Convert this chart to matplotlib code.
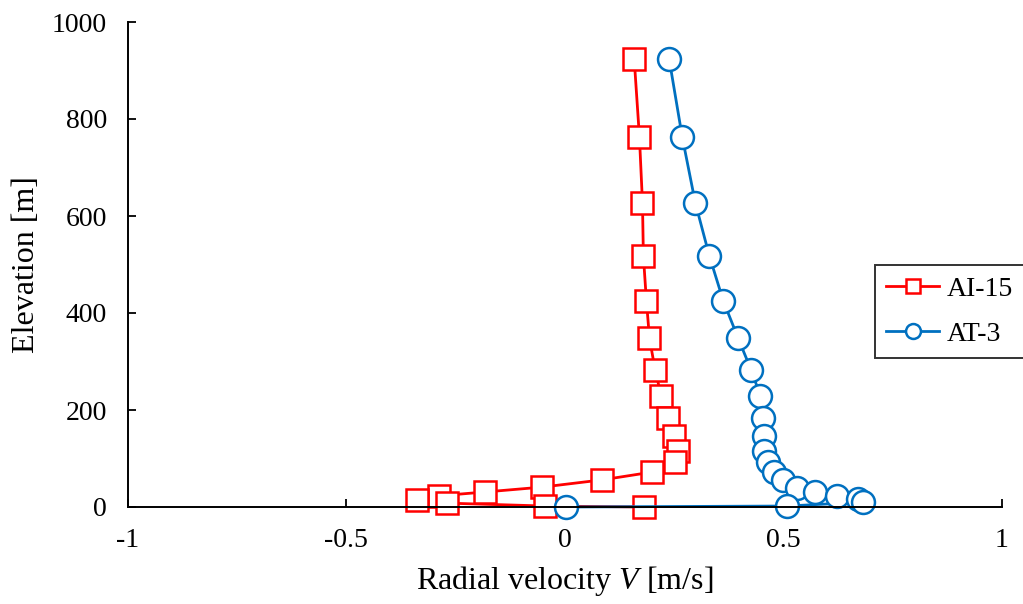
import matplotlib
matplotlib.use("Agg")
import matplotlib.pyplot as plt

# Elevation [m] of each measurement level, top to bottom
elev_ai15 = [924, 763, 627, 518, 425, 348, 282, 229, 184, 146, 115, 93, 72, 56,
             41, 31, 23, 14, 8, 2, 0]
v_ai15 = [0.159, 0.171, 0.178, 0.180, 0.187, 0.194, 0.207, 0.221, 0.237, 0.251,
          0.260, 0.253, 0.200, 0.086, -0.052, -0.182, -0.288, -0.338, -0.269,
          -0.045, 0.182]

elev_at3 = [924, 763, 627, 518, 425, 348, 282, 229, 184, 146, 115, 93, 72, 56,
            40, 31, 23, 16, 10, 2, 0]
v_at3 = [0.239, 0.269, 0.299, 0.331, 0.363, 0.397, 0.427, 0.448, 0.455, 0.457,
         0.457, 0.466, 0.480, 0.500, 0.532, 0.574, 0.624, 0.672, 0.682, 0.510,
         0.003]

x_ticks = [-1, -0.5, 0, 0.5, 1]
x_tick_labels = ["-1", "-0.5", "0", "0.5", "1"]
y_ticks = [0, 200, 400, 600, 800, 1000]

plt.rcParams["font.family"] = ["Liberation Serif", "DejaVu Serif"]
plt.rcParams["mathtext.fontset"] = "custom"
plt.rcParams["mathtext.it"] = "Liberation Serif:italic"
plt.rcParams["mathtext.rm"] = "Liberation Serif"

fig = plt.figure(figsize=(10.23, 6.04), dpi=100)
ax = fig.add_axes([128 / 1023, 1 - 507 / 604, (1001.5 - 128) / 1023, (507 - 22) / 604])

red = "#FF0000"
blue = "#0070C0"
ax.plot(v_ai15, elev_ai15, color=red, lw=2.0, marker="s", ms=16,
        mfc="white", mec=red, mew=1.8, label="AI-15")
ax.plot(v_at3, elev_at3, color=blue, lw=2.0, marker="o", ms=16.5,
        mfc="white", mec=blue, mew=1.8, label="AT-3")

ax.set_xlim(-1, 1)
ax.set_ylim(0, 1000)
ax.set_xticks(x_ticks)
ax.set_xticklabels(x_tick_labels)
ax.set_yticks(y_ticks)
ax.tick_params(direction="in", length=6, width=1.3, labelsize=20, pad=15)
for s in ("top", "right"):
    ax.spines[s].set_visible(False)
for s in ("left", "bottom"):
    ax.spines[s].set_linewidth(1.4)
    ax.spines[s].set_clip_on(False)
for line in ax.lines:
    line.set_clip_on(False)

ax.set_xlabel("Radial velocity $V$ [m/s]", fontsize=23, labelpad=8)
ax.set_ylabel("Elevation [m]", fontsize=23, labelpad=8)

leg = ax.legend(loc="upper left", bbox_to_anchor=(747 / 873.5, 1 - (265 - 22) / 485),
                fontsize=20, frameon=True, fancybox=False, edgecolor="black",
                handlelength=1.9, markerscale=0.65, borderpad=0.4,
                labelspacing=0.72, handletextpad=0.3, borderaxespad=0)
leg.get_frame().set_linewidth(1.4)

fig.savefig("out.png", dpi=100)
